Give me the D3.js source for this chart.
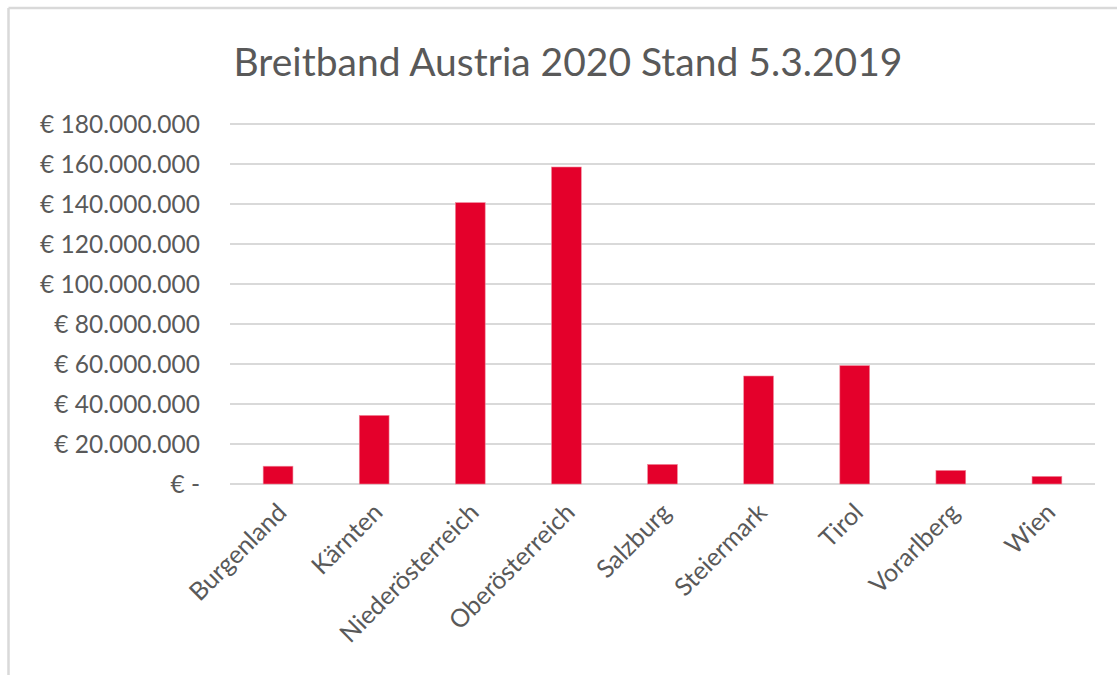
<!DOCTYPE html>
<html>
<head>
<meta charset="utf-8">
<script src="https://cdn.jsdelivr.net/npm/d3@7"></script>
<style>
  html, body { margin: 0; padding: 0; background: #fff; }
  svg { display: block; }
  text { font-family: Lato, "Open Sans", sans-serif; }
</style>
</head>
<body>
<svg id="chart" width="1117" height="675"></svg>
<script>
const title = "Breitband Austria 2020 Stand 5.3.2019";
const categories = ["Burgenland", "Kärnten", "Niederösterreich", "Oberösterreich", "Salzburg", "Steiermark", "Tirol", "Vorarlberg", "Wien"];
const values = [8900000, 34300000, 140700000, 158500000, 9800000, 54000000, 59200000, 6800000, 3800000];
const tickValues = [0, 20000000, 40000000, 60000000, 80000000, 100000000, 120000000, 140000000, 160000000, 180000000];
const tickLabels = ["€ -", "€ 20.000.000", "€ 40.000.000", "€ 60.000.000", "€ 80.000.000", "€ 100.000.000", "€ 120.000.000", "€ 140.000.000", "€ 160.000.000", "€ 180.000.000"];

const svg = d3.select("#chart");
const W = 1117, H = 675;
const margin = { left: 230, right: 22, top: 124, bottom: 191 };
const plotW = W - margin.left - margin.right;
const plotH = H - margin.top - margin.bottom;

// frame
svg.append("line").attr("x1", 8.5).attr("x2", W).attr("y1", 8).attr("y2", 8)
  .attr("stroke", "#d9d9d9").attr("stroke-width", 2.5);
svg.append("line").attr("x1", 8.5).attr("x2", 8.5).attr("y1", 8).attr("y2", H)
  .attr("stroke", "#d9d9d9").attr("stroke-width", 2.5);

const x = d3.scaleBand().domain(categories).range([0, plotW]).paddingInner(0.69).paddingOuter(0.345);
const y = d3.scaleLinear().domain([0, 180000000]).range([plotH, 0]);

const g = svg.append("g").attr("transform", `translate(${margin.left},${margin.top})`);

// gridlines
g.append("g").selectAll("line").data(tickValues).join("line")
  .attr("x1", 0).attr("x2", plotW)
  .attr("y1", d => y(d)).attr("y2", d => y(d))
  .attr("stroke", "#d9d9d9").attr("stroke-width", 2);

// y axis
const yAxis = d3.axisLeft(y).tickValues(tickValues)
  .tickFormat((d, i) => tickLabels[i]).tickSize(0).tickPadding(0);
const ya = g.append("g").attr("transform", "translate(-30,0)").call(yAxis);
ya.select(".domain").remove();
ya.selectAll("text").attr("fill", "#595959").style("font-size", "24.5px")
  .style("font-family", "Lato, 'Open Sans', sans-serif").attr("dy", "0.35em");

// bars
g.append("g").selectAll("rect").data(values).join("rect")
  .attr("x", (d, i) => x(categories[i]))
  .attr("width", x.bandwidth())
  .attr("y", d => y(d))
  .attr("height", d => plotH - y(d))
  .attr("fill", "#e4002b")
  .attr("stroke", "#f08a9c").attr("stroke-width", 0.6);

// x axis
const xAxis = d3.axisBottom(x).tickSize(0).tickPadding(0);
const xa = g.append("g").attr("transform", `translate(0,${plotH})`).call(xAxis);
xa.select(".domain").remove();
xa.selectAll("text")
  .attr("fill", "#595959").style("font-size", "25px")
  .style("font-family", "Lato, 'Open Sans', sans-serif")
  .attr("text-anchor", "end")
  .attr("dy", "0")
  .attr("transform", "translate(10,30) rotate(-45)");

// title
svg.append("text").attr("x", 568).attr("y", 76).attr("text-anchor", "middle")
  .attr("fill", "#595959").style("font-size", "39px").text(title);
</script>
</body>
</html>
